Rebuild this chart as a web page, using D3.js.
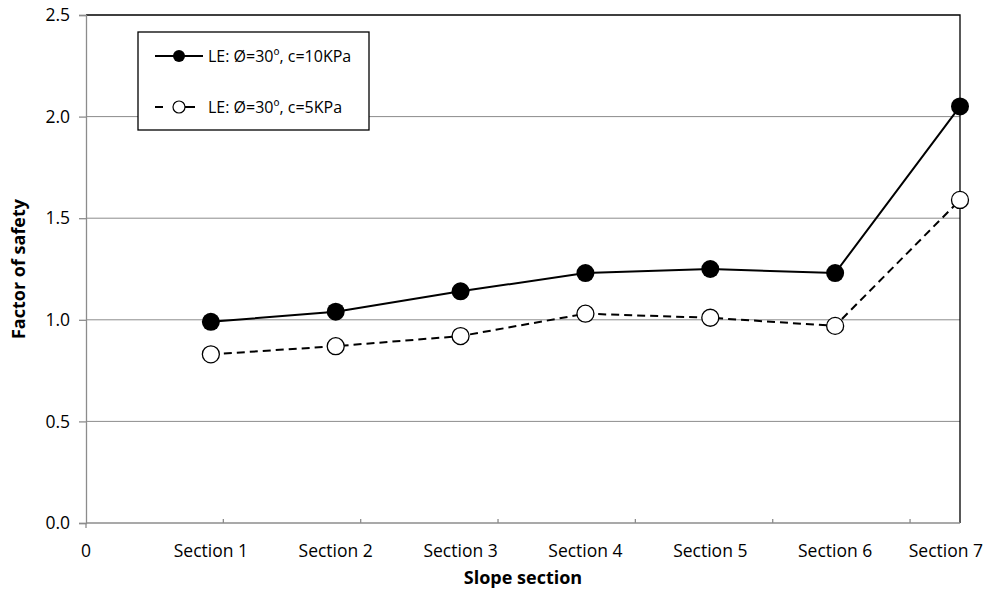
<!DOCTYPE html>
<html>
<head>
<meta charset="utf-8">
<script src="https://cdn.jsdelivr.net/npm/d3@7"></script>
<style>
  html, body { margin: 0; padding: 0; background: #fff; }
  svg { display: block; font-family: "Open Sans", "Noto Sans", sans-serif; }
</style>
</head>
<body>
<svg id="chart" width="988" height="589"></svg>
<script>
// Factor of safety per slope section, limit-equilibrium runs
const categories = ["Section 1", "Section 2", "Section 3", "Section 4", "Section 5", "Section 6", "Section 7"];
const originLabel = "0";
const seriesC10 = [0.99, 1.04, 1.14, 1.23, 1.25, 1.23, 2.05];
const seriesC5 = [0.83, 0.87, 0.92, 1.03, 1.01, 0.97, 1.59];
const seriesNames = ["LE: Ø=30º, c=10KPa", "LE: Ø=30º, c=5KPa"];
const yTickValues = [0, 0.5, 1.0, 1.5, 2.0, 2.5];
const xTickStep = 1.1;
const xTitle = "Slope section";
const yTitle = "Factor of safety";

const W = 988;
const svg = d3.select("#chart");
const plot = { left: 86, right: 960, top: 15, bottom: 523 };
const gridColor = "#8c8c8c";

const x = d3.scaleLinear().domain([0, categories.length]).range([plot.left, plot.right]);
const y = d3.scaleLinear().domain([0, 2.5]).range([plot.bottom, plot.top]);

// gridlines
svg.append("g").selectAll("line")
  .data(yTickValues.filter(v => v > 0 && v < 2.5))
  .join("line")
  .attr("x1", plot.left).attr("x2", plot.right)
  .attr("y1", d => y(d)).attr("y2", d => y(d))
  .attr("stroke", gridColor).attr("stroke-width", 1);

// top and right frame
svg.append("path")
  .attr("d", `M${plot.left},${y(2.5)}H${plot.right}V${plot.bottom}`)
  .attr("fill", "none").attr("stroke", "#000").attr("stroke-width", 1.3);

// y axis
const yAxis = d3.axisLeft(y).tickValues(yTickValues).tickFormat(d3.format(".1f")).tickSize(7).tickPadding(9);
const gy = svg.append("g").attr("transform", `translate(${plot.left},0)`).call(yAxis);
gy.select(".domain").attr("stroke", gridColor).attr("stroke-width", 1.3);
gy.selectAll(".tick line").attr("stroke", gridColor).attr("stroke-width", 1.3);
gy.selectAll(".tick text").attr("font-size", 17.5).attr("fill", "#000")
  .attr("font-family", "'Open Sans', sans-serif");

// x axis line with inner tick marks
const gx = svg.append("g").attr("transform", `translate(0,${plot.bottom})`);
gx.append("line").attr("x1", plot.left).attr("x2", plot.right)
  .attr("stroke", gridColor).attr("stroke-width", 1.3);
gx.append("line").attr("x1", x(0)).attr("x2", x(0)).attr("y1", 0).attr("y2", 5)
  .attr("stroke", gridColor).attr("stroke-width", 1.3);
gx.selectAll("line.tk")
  .data(d3.range(xTickStep, categories.length, xTickStep))
  .join("line").attr("class", "tk")
  .attr("x1", d => x(d)).attr("x2", d => x(d))
  .attr("y1", 0).attr("y2", -4)
  .attr("stroke", gridColor).attr("stroke-width", 1.3);

// category labels, the last one kept inside the canvas
const labels = [originLabel].concat(categories);
svg.append("g").selectAll("text")
  .data(labels)
  .join("text")
  .attr("x", (d, i) => x(i))
  .attr("y", 557)
  .attr("text-anchor", "middle")
  .attr("font-size", 17.5)
  .attr("fill", "#000")
  .text(d => d)
  .each(function () {
    const b = this.getBBox();
    const overflow = b.x + b.width - (W - 5);
    if (overflow > 0) d3.select(this).attr("x", +d3.select(this).attr("x") - overflow);
  });

// axis titles
svg.append("text")
  .attr("x", (plot.left + plot.right) / 2).attr("y", 584)
  .attr("text-anchor", "middle").attr("font-weight", "bold").attr("font-size", 18)
  .text(xTitle);
svg.append("text")
  .attr("transform", `translate(25,${(plot.top + plot.bottom) / 2}) rotate(-90)`)
  .attr("text-anchor", "middle").attr("font-weight", "bold").attr("font-size", 18)
  .text(yTitle);

// series
const line = d3.line().x((d, i) => x(i + 1)).y(d => y(d));

svg.append("path").datum(seriesC5)
  .attr("d", line).attr("fill", "none").attr("stroke", "#000")
  .attr("stroke-width", 2).attr("stroke-dasharray", "8,5");
svg.append("path").datum(seriesC10)
  .attr("d", line).attr("fill", "none").attr("stroke", "#000")
  .attr("stroke-width", 2);

svg.append("g").selectAll("circle")
  .data(seriesC5).join("circle")
  .attr("cx", (d, i) => x(i + 1)).attr("cy", d => y(d)).attr("r", 8.5)
  .attr("fill", "#fff").attr("stroke", "#000").attr("stroke-width", 1.3);
svg.append("g").selectAll("circle")
  .data(seriesC10).join("circle")
  .attr("cx", (d, i) => x(i + 1)).attr("cy", d => y(d)).attr("r", 9)
  .attr("fill", "#000");

// legend
const lg = svg.append("g");
lg.append("rect").attr("x", 138).attr("y", 32).attr("width", 231).attr("height", 98)
  .attr("fill", "#fff").attr("stroke", "#000").attr("stroke-width", 1.3);
const rows = [
  { name: seriesNames[0], yy: 56, dashed: false },
  { name: seriesNames[1], yy: 107, dashed: true }
];
rows.forEach(r => {
  if (r.dashed) {
    lg.append("line").attr("x1", 155).attr("x2", 163).attr("y1", r.yy).attr("y2", r.yy)
      .attr("stroke", "#000").attr("stroke-width", 2);
    lg.append("line").attr("x1", 185).attr("x2", 195).attr("y1", r.yy).attr("y2", r.yy)
      .attr("stroke", "#000").attr("stroke-width", 2);
    lg.append("circle").attr("cx", 179).attr("cy", r.yy).attr("r", 6)
      .attr("fill", "#fff").attr("stroke", "#000").attr("stroke-width", 1.2);
  } else {
    lg.append("line").attr("x1", 155).attr("x2", 203).attr("y1", r.yy).attr("y2", r.yy)
      .attr("stroke", "#000").attr("stroke-width", 2);
    lg.append("circle").attr("cx", 179).attr("cy", r.yy).attr("r", 6).attr("fill", "#000");
  }
  lg.append("text").attr("x", 208).attr("y", r.yy).attr("dy", "0.35em")
    .attr("font-size", 16).attr("fill", "#000").text(r.name);
});
</script>
</body>
</html>
